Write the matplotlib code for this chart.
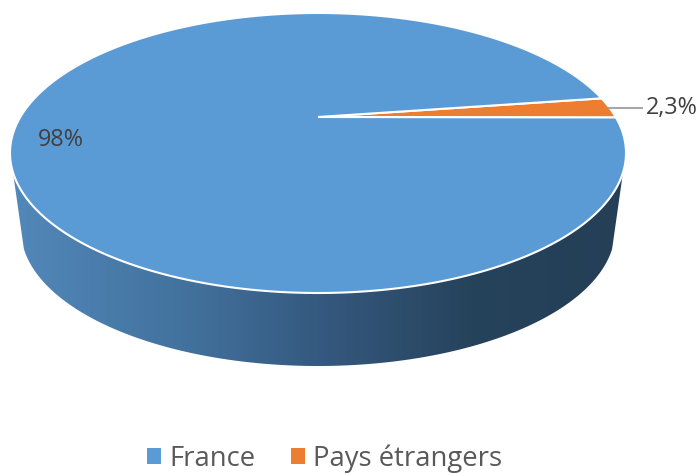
import matplotlib.pyplot as plt
import numpy as np
from matplotlib.colors import LinearSegmentedColormap
from matplotlib.patches import Patch, Polygon

plt.rcParams['font.family'] = ['Open Sans', 'DejaVu Sans']

categories = ['France', 'Pays étrangers']
shares = [97.7, 2.3]
slice_labels = ['98%', '2,3%']
colors = ['#5b9bd5', '#ed7d31']

# sizes of the tilted pie, in pixels of the picture
cx, cy, rx, ry = 318, 153, 308, 140
apex_y = 117
bottom_cy, bottom_rx, bottom_ry = 230, 297, 136
start_angle = 14.7


def rim(deg, x0=cx, y0=cy, a=rx, b=ry):
    t = np.radians(deg)
    return x0 + a * np.cos(t), y0 - b * np.sin(t)


fig = plt.figure(figsize=(7, 4.74), dpi=100)
ax = fig.add_axes([0, 0, 1, 1])
ax.set_xlim(0, 700)
ax.set_ylim(474, 0)
ax.axis('off')

# side of the pie, light on the left and dark on the right
t_front = np.linspace(188, 352, 200)
top_x, top_y = rim(t_front)
low_x, low_y = rim(t_front, cx, bottom_cy, bottom_rx, bottom_ry)
side = Polygon(np.column_stack([np.r_[top_x, low_x[::-1]], np.r_[top_y, low_y[::-1]]]),
               closed=True, fc='none', ec='none')
ax.add_patch(side)
side_cmap = LinearSegmentedColormap.from_list(
    'side', [(0, '#5288ba'), (0.3, '#41709b'), (0.5, '#35597f'), (0.75, '#26435c'), (1, '#243f56')])
img = ax.imshow(np.linspace(0, 1, 256).reshape(1, -1), cmap=side_cmap, aspect='auto',
                extent=[top_x.min(), top_x.max(), low_y.max(), top_y.min()], zorder=1)
img.set_clip_path(side)
ax.set_xlim(0, 700)
ax.set_ylim(474, 0)

# top face, one slice per share
angle = start_angle
mid_angles = []
for share, color in zip(shares[::-1], colors[::-1]):
    sweep = 360 * share / sum(shares)
    t = np.linspace(angle, angle + sweep, 400)
    x, y = rim(t)
    pts = np.column_stack([np.r_[cx, x], np.r_[apex_y, y]])
    ax.add_patch(Polygon(pts, closed=True, fc=color, ec='white', lw=1.5, zorder=2))
    mid_angles.append(angle + sweep / 2)
    angle += sweep

# leader line and labels
lx, ly = rim(mid_angles[0])
ax.plot([lx, 642], [ly, ly], color='#a6a6a6', lw=1.5, zorder=3)
ax.text(646, 108, slice_labels[1], fontsize=16.8, color='#404040', ha='left', va='center')
ax.text(61, 140, slice_labels[0], fontsize=16.8, color='#404040', ha='center', va='center')

handles = [Patch(fc=c, ec='none') for c in colors]
leg = ax.legend(handles, categories, loc='lower center', bbox_to_anchor=(0.464, -0.05), ncol=2,
                frameon=False, fontsize=19.8, labelcolor='#595959', handlelength=0.5, handleheight=0.5,
                handletextpad=0.3, columnspacing=1.3)

fig.savefig('out.png', dpi=100)
